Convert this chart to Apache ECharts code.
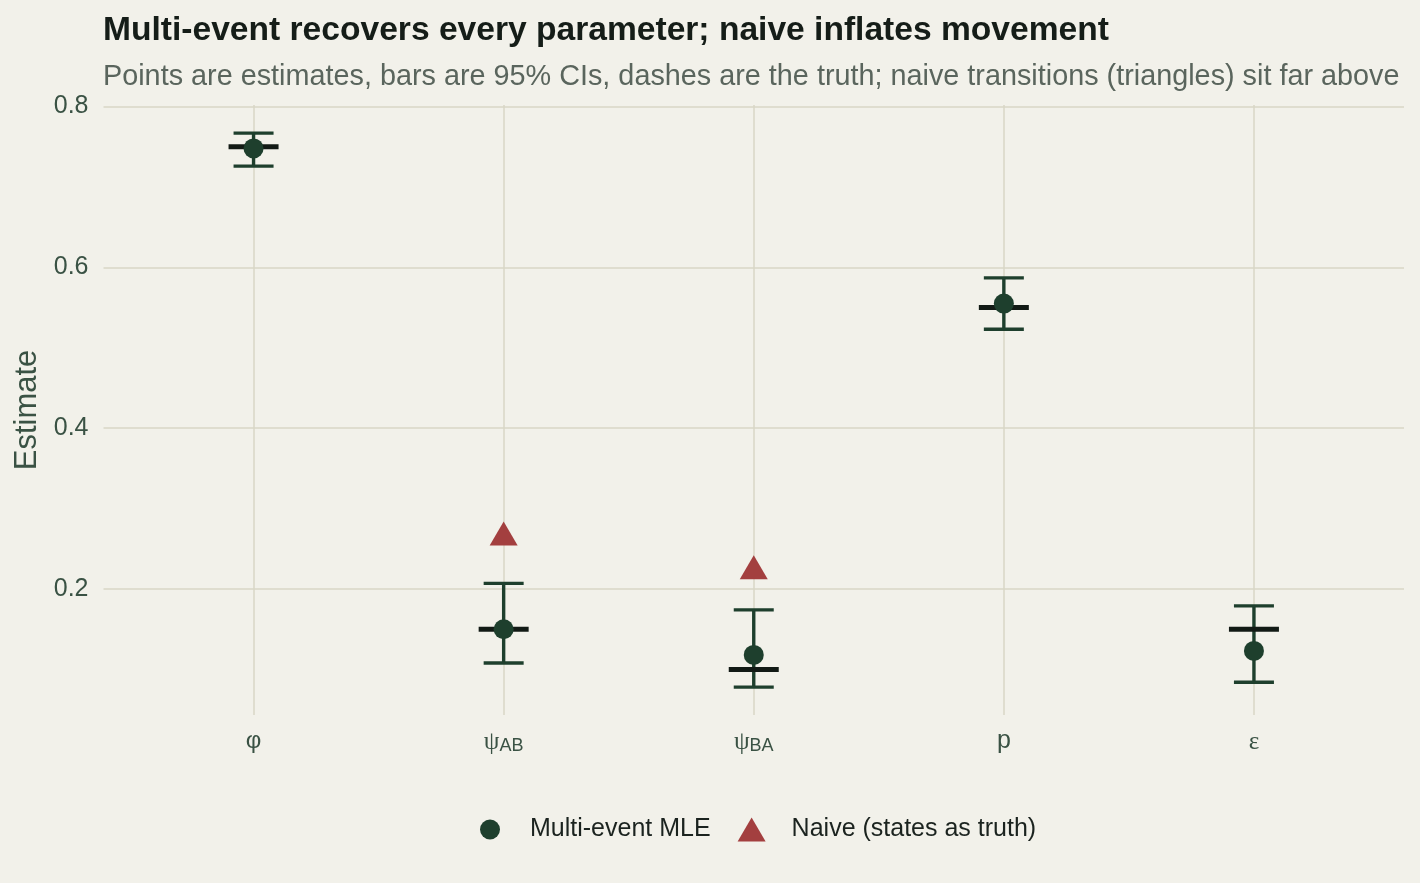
<!DOCTYPE html>
<html>
<head>
<meta charset="utf-8">
<script src="https://cdn.jsdelivr.net/npm/echarts@6/dist/echarts.min.js"></script>
<style>
  html, body { margin: 0; padding: 0; background: #f2f1ea; }
  #main { width: 1420px; height: 883px; }
</style>
</head>
<body>
<div id="main"></div>
<script>
// parameters on the x axis (rich-text labels so psi gets its subscript)
const paramLabels = ['{f|φ}', '{g|ψ}{s|AB}', '{g|ψ}{s|BA}', '{p|p}', '{g|ε}'];
// multi-event MLE with 95% CI, true values, naive estimates
const estimate = [0.748, 0.150, 0.118, 0.555, 0.123];
const lower    = [0.726, 0.108, 0.078, 0.523, 0.084];
const upper    = [0.767, 0.207, 0.174, 0.587, 0.179];
const truth    = [0.75, 0.15, 0.10, 0.55, 0.15];
const naive    = [null, 0.264, 0.222, null, null];
const yTicks   = [0.2, 0.4, 0.6, 0.8];
const xTicks   = [0, 1, 2, 3, 4];

const green = '#1e3f2d';
const red = '#a33f3f';
const axisText = '#3a5244';

let myChart = echarts.init(document.getElementById('main'));

function errorBar(params, api) {
  const x = api.value(0);
  const lo = api.coord([x, api.value(1)]);
  const hi = api.coord([x, api.value(2)]);
  const hw = 20;
  const style = { stroke: green, lineWidth: 3.4, fill: null };
  return {
    type: 'group',
    children: [
      { type: 'line', shape: { x1: lo[0], y1: lo[1], x2: hi[0], y2: hi[1] }, style: style },
      { type: 'line', shape: { x1: lo[0] - hw, y1: lo[1], x2: lo[0] + hw, y2: lo[1] }, style: style },
      { type: 'line', shape: { x1: hi[0] - hw, y1: hi[1], x2: hi[0] + hw, y2: hi[1] }, style: style }
    ]
  };
}

function truthDash(params, api) {
  const p = api.coord([api.value(0), api.value(1)]);
  return {
    type: 'line',
    shape: { x1: p[0] - 25, y1: p[1], x2: p[0] + 25, y2: p[1] },
    style: { stroke: '#121a15', lineWidth: 5 }
  };
}

myChart.setOption({
  backgroundColor: '#f2f1ea',
  animation: false,
  title: {
    text: 'Multi-event recovers every parameter; naive inflates movement',
    subtext: 'Points are estimates, bars are 95% CIs, dashes are the truth; naive transitions (triangles) sit far above',
    left: 103,
    top: 14,
    padding: 0,
    itemGap: 15,
    textStyle: { fontFamily: 'Liberation Sans', fontSize: 33.6, fontWeight: 'bold', color: '#151d18' },
    subtextStyle: { fontFamily: 'Liberation Sans', fontSize: 28.8, color: '#5a655d' }
  },
  legend: {
    data: [
      { name: 'Multi-event MLE', icon: 'path://M0,0 M28,24 M4,12 a10,10 0 1,0 20,0 a10,10 0 1,0 -20,0 Z' },
      { name: 'Naive (states as truth)' }
    ],
    left: 471,
    top: 812,
    itemWidth: 28,
    itemHeight: 24,
    itemGap: 27,
    textStyle: { fontFamily: 'Liberation Sans', fontSize: 25, color: '#1b231f', padding: [0, 0, 0, 21] }
  },
  grid: { left: 103.5, right: 16, top: 105, bottom: 168, containLabel: false, outerBoundsMode: 'none' },
  xAxis: {
    type: 'value',
    min: -0.6,
    max: 4.6,
    axisLine: { show: false },
    axisTick: { show: false, customValues: xTicks },
    splitLine: { show: true, lineStyle: { color: '#d8d6c6', width: 1.5 } },
    axisLabel: {
      customValues: xTicks,
      margin: 14,
      formatter: function (v) { return paramLabels[Math.round(v)]; },
      rich: {
        f: { fontFamily: 'Liberation Sans', fontSize: 24, color: axisText },
        g: { fontFamily: 'Liberation Serif', fontSize: 25, color: axisText, verticalAlign: 'bottom', lineHeight: 26 },
        s: { fontFamily: 'Liberation Sans', fontSize: 18, color: axisText, verticalAlign: 'bottom', lineHeight: 22 },
        p: { fontFamily: 'Liberation Sans', fontSize: 25, color: axisText }
      }
    }
  },
  yAxis: {
    type: 'value',
    min: 0.0433,
    max: 0.802,
    name: 'Estimate',
    nameLocation: 'middle',
    nameRotate: 90,
    nameGap: 60,
    nameTextStyle: { fontFamily: 'Liberation Sans', fontSize: 31, color: axisText },
    axisLine: { show: false },
    axisTick: { show: false, customValues: yTicks },
    splitLine: { show: true, lineStyle: { color: '#d8d6c6', width: 1.5 } },
    axisLabel: {
      customValues: yTicks,
      margin: 15,
      fontFamily: 'Liberation Sans',
      fontSize: 25,
      color: axisText,
      formatter: function (v) { return v.toFixed(1); }
    }
  },
  series: [
    {
      type: 'custom',
      name: 'ci',
      renderItem: errorBar,
      encode: { x: 0, y: [1, 2] },
      data: estimate.map((e, i) => [i, lower[i], upper[i]]),
      silent: true
    },
    {
      type: 'custom',
      name: 'truth',
      renderItem: truthDash,
      encode: { x: 0, y: 1 },
      data: truth.map((t, i) => [i, t]),
      silent: true
    },
    {
      type: 'scatter',
      name: 'Multi-event MLE',
      symbol: 'circle',
      symbolSize: 20,
      itemStyle: { color: green, opacity: 1 },
      data: estimate.map((e, i) => [i, e])
    },
    {
      type: 'scatter',
      name: 'Naive (states as truth)',
      symbol: 'triangle',
      symbolSize: [28, 24],
      symbolOffset: [0, -4],
      itemStyle: { color: red, opacity: 1 },
      data: naive.map((v, i) => [i, v]).filter(d => d[1] !== null)
    }
  ]
});
</script>
</body>
</html>
